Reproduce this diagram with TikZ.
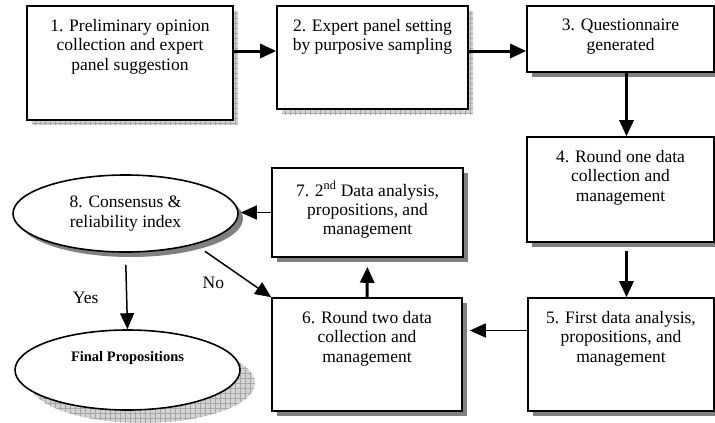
\documentclass[tikz,border=0pt]{standalone}
\usepackage{fontspec}
\setmainfont{Liberation Serif}
\usetikzlibrary{arrows.meta,positioning,shapes.geometric,shadows,patterns.meta}

\begin{document}
\begin{tikzpicture}[
 x=1pt, y=-1pt, >={Triangle[length=16pt,width=14pt]}, font=\fontsize{17.5}{19.3}\selectfont,
 box/.style={draw, line width=1.6pt, fill=white, inner sep=0pt},
 ell/.style={ellipse, draw, line width=1.6pt, fill=white, inner sep=0pt, align=center},
 txt/.style={inner sep=0pt, align=center},
 solidshadow/.style={drop shadow={shadow xshift=5pt, shadow yshift=-5pt, fill=black!50, opacity=1}},
 gridshadow/.style 2 args={drop shadow={shadow xshift=#1, shadow yshift=#2, fill=black!17, opacity=1},
   drop shadow={shadow xshift=#1, shadow yshift=#2, pattern={Hatch[angle=0,distance=5pt,line width=.5pt]}, pattern color=black!35, opacity=1}},
 bigarrow/.style={->, line width=3pt}, thinarrow/.style={->, line width=1.5pt}]
\useasboundingbox (0,0) rectangle (715,423);
\node[box, gridshadow={5pt}{-5pt}, minimum width=206pt, minimum height=114pt] (b1) at (130,63) {};
\node[box, gridshadow={5pt}{-5pt}, minimum width=191pt, minimum height=103pt] (b2) at (372.5,57.5) {};
\node[box, solidshadow, minimum width=187pt, minimum height=66pt] (b3) at (620.5,39) {};
\node[box, solidshadow, minimum width=187pt, minimum height=105pt] (b4) at (620.5,189.5) {};
\node[box, solidshadow, minimum width=186pt, minimum height=113pt] (b5) at (621,354.5) {};
\node[box, solidshadow, minimum width=190pt, minimum height=113pt] (b6) at (367,354.5) {};
\node[box, solidshadow, minimum width=191pt, minimum height=89pt] (b7) at (367.5,212.5) {};
\node[ell, solidshadow, minimum width=225pt, minimum height=77pt] (e8) at (125.5,213.5) {8. Consensus \&\\reliability index};
\node[ell, gridshadow={15pt}{-13pt}, minimum width=225pt, minimum height=80pt] (fin) at (127.5,370) {};
\node[txt, below=14pt of b1.north] (t1) {1. Preliminary opinion\\collection and expert\\panel suggestion};
\node[txt, below=14pt of b2.north] (t2) {2. Expert panel setting\\by purposive sampling};
\node[txt, below=14pt of b3.north] (t3) {3. Questionnaire\\generated};
\node[txt, below=14pt of b4.north] (t4) {4. Round one data\\collection and\\management};
\node[txt, below=14pt of b5.north] (t5) {5. First data analysis,\\propositions, and\\management};
\node[txt, below=14pt of b6.north] (t6) {6. Round two data\\collection and\\management};
\node[txt, below=14pt of b7.north] (t7) {7. 2\textsuperscript{nd} Data analysis,\\propositions, and\\management};
\node[txt, font=\fontsize{14.5}{17}\selectfont\bfseries] (tfin) at ([yshift=12pt]fin.center) {Final Propositions};
\draw[bigarrow] ([yshift=12pt]b1.east) -- ([yshift=12pt]b1.east -| b2.west);
\draw[bigarrow] ([yshift=12pt]b1.east -| b2.east) -- ([yshift=12pt]b1.east -| b3.west);
\draw[bigarrow] ([xshift=6pt]b3.south) -- ([xshift=6pt]b3.south |- b4.north);
\draw[bigarrow] ([xshift=6pt,yshift=-8pt]b4.south) -- ([xshift=6pt]b4.south |- b5.north);
\draw[thinarrow, shorten >=7pt] ([yshift=24pt]b5.west) -- ([yshift=24pt]b5.west -| b6.east);
\draw[bigarrow, shorten >=9pt] (b6.north) -- (b7.south);
\draw[thinarrow, shorten >=2pt] (b7.west) -- (b7.west -| e8.east);
\draw[thinarrow, shorten <=12pt] (e8.south) -- (fin.north) node[midway, left=24pt, yshift=-7pt] (yes) {Yes};
\draw[thinarrow, shorten <=12pt] (e8.-24) -- (b6.north west) node[midway, left=5pt, yshift=-12pt] (no) {No};
\end{tikzpicture}
\end{document}
